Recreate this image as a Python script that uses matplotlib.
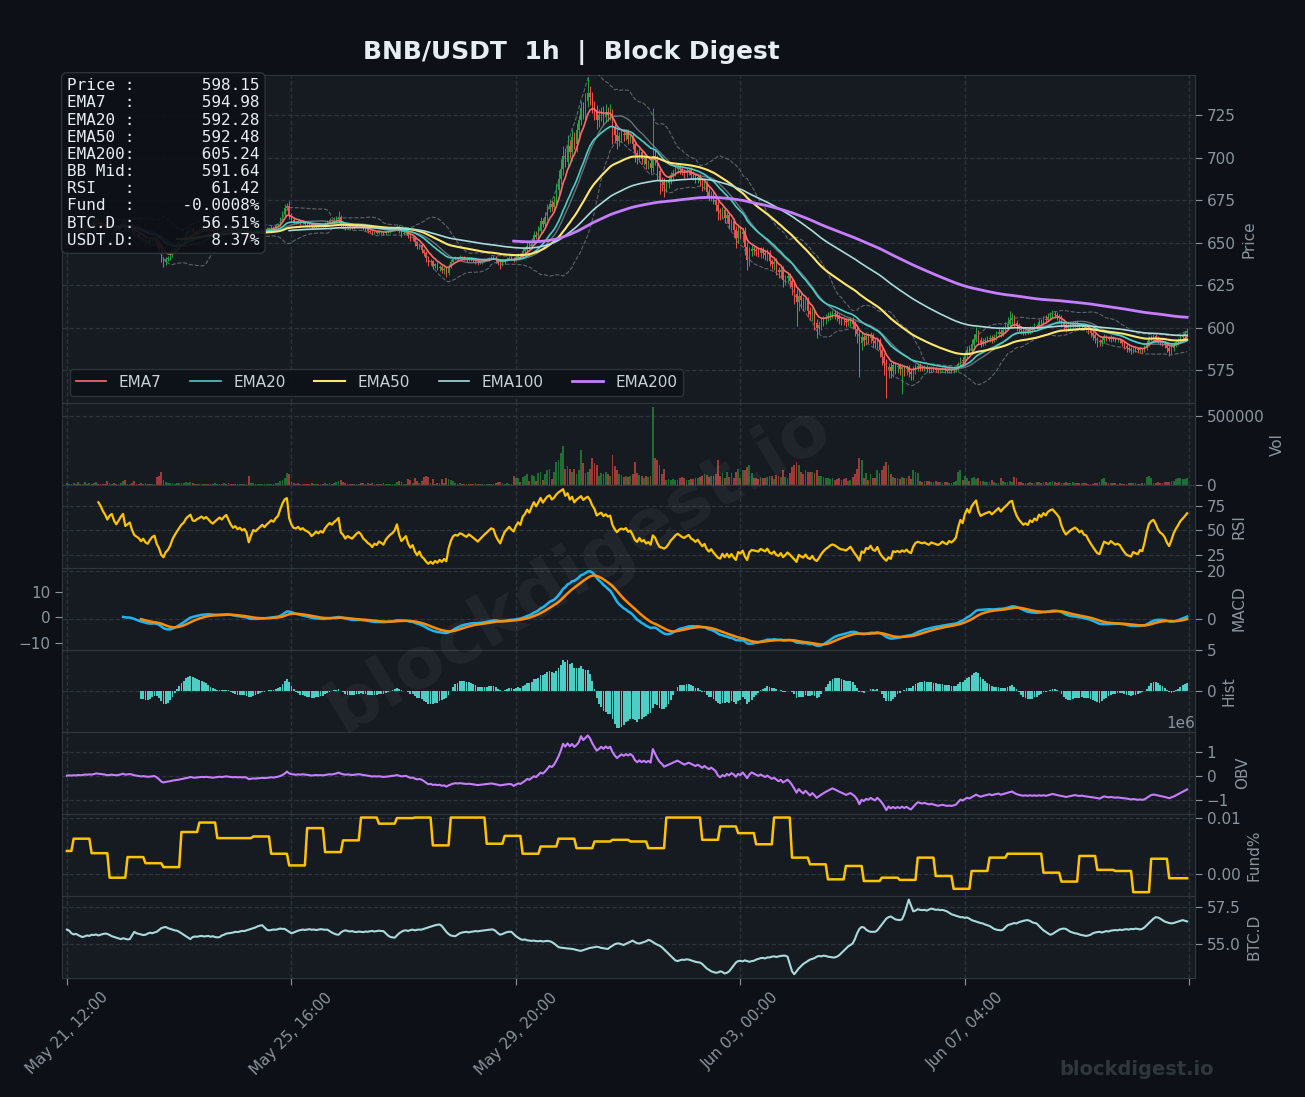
import numpy as np
import pandas as pd
import matplotlib
matplotlib.use("Agg")
import matplotlib.pyplot as plt

# ---------------- data ----------------
start_time = "2025-05-21 12:00"
first_open = 654.5
close = [
    655.0, 656.2, 655.4, 657.1, 656.5, 658.0, 657.3, 659.2, 660.1, 659.4,
    661.0, 660.3, 662.5, 663.8, 662.0, 661.2, 660.0, 659.1, 657.8, 659.5,
    660.4, 658.6, 657.5, 659.0, 660.8, 662.3, 658.4, 659.2, 660.0, 657.2,
    655.0, 654.2, 653.5, 652.0, 652.8, 651.0, 650.3, 651.5, 652.4, 652.8,
    649.0, 646.5, 641.0, 638.5, 640.2, 641.0, 642.5, 645.0, 646.8, 648.5,
    650.2, 652.0, 653.1, 655.5, 657.0, 658.2, 656.0, 655.8, 656.9, 657.5,
    658.3, 657.6, 658.5, 657.8, 657.0, 656.5, 657.4, 658.2, 659.0, 658.5,
    659.6, 660.4, 659.2, 658.0, 657.1, 657.6, 656.8, 657.2, 656.5, 656.9,
    656.0, 652.8, 654.5, 656.2, 655.8, 656.5, 657.1, 657.8, 657.2, 658.0,
    658.6, 659.3, 659.0, 660.1, 660.8, 663.5, 667.0, 670.5, 671.8, 666.0,
    663.5, 662.0, 661.8, 662.5, 661.4, 662.0, 661.2, 660.8, 660.2, 659.0,
    659.6, 660.4, 659.8, 660.5, 660.0, 661.3, 662.2, 663.0, 662.6, 663.4,
    664.0, 664.8, 661.0, 660.2, 658.8, 659.5, 659.0, 658.6, 659.2, 659.8,
    660.2, 659.6, 658.4, 657.8, 657.0, 656.5, 655.6, 656.2, 655.8, 656.4,
    656.0, 655.5, 656.3, 656.8, 657.2, 657.5, 658.0, 659.2, 657.0, 655.3,
    655.8, 656.3, 654.0, 652.5, 653.0, 650.2, 648.0, 648.8, 645.5, 644.0,
    641.0, 638.5, 639.0, 636.5, 637.2, 635.2, 635.9, 633.8, 634.5, 632.2,
    635.8, 638.5, 640.4, 641.0, 640.6, 641.5, 641.2, 640.5, 640.0, 640.8,
    640.2, 639.5, 638.8, 638.0, 638.6, 639.2, 639.8, 640.3, 640.9, 641.4,
    641.2, 639.5, 638.2, 637.0, 638.4, 639.8, 640.5, 641.2, 640.5, 640.0,
    641.5, 642.6, 642.0, 644.8, 646.0, 648.2, 647.5, 650.8, 654.6, 653.5,
    657.0, 662.5, 661.0, 665.2, 670.0, 672.5, 671.0, 674.0, 681.0, 687.5,
    693.0, 701.0, 697.5, 707.0, 703.0, 712.0, 708.0, 716.0, 722.0, 729.0,
    726.0, 733.0, 738.0, 735.5, 731.0, 728.0, 722.0, 725.0, 727.0, 724.0,
    727.0, 725.0, 726.5, 718.0, 713.5, 710.0, 712.8, 714.0, 713.0, 714.5,
    711.0, 712.0, 708.0, 702.5, 700.0, 703.0, 699.0, 700.0, 696.0, 697.0,
    694.0, 701.0, 698.5, 692.0, 686.5, 685.5, 684.0, 685.0, 687.0, 689.5,
    691.0, 693.0, 694.2, 693.0, 691.5, 690.8, 691.8, 692.5, 690.0, 689.0,
    687.5, 688.5, 686.0, 683.5, 684.5, 680.0, 677.5, 678.5, 675.0, 672.0,
    668.5, 667.0, 669.0, 664.5, 666.0, 661.0, 662.5, 657.5, 653.0, 657.0,
    655.0, 656.5, 647.5, 640.0, 645.0, 646.5, 645.6, 645.0, 644.0, 645.5,
    644.0, 642.5, 643.8, 639.0, 637.5, 638.6, 634.0, 632.5, 633.8, 628.0,
    629.0, 630.2, 627.5, 624.0, 620.0, 615.0, 618.5, 616.0, 614.0, 615.5,
    610.0, 608.0, 609.5, 603.0, 600.0, 601.5, 603.5, 605.0, 606.2, 607.0,
    608.0, 608.5, 607.8, 606.5, 605.0, 604.2, 604.0, 603.2, 603.8, 604.5,
    602.0, 599.0, 596.0, 591.0, 594.5, 593.0, 595.0, 594.2, 595.5, 592.0,
    591.0, 592.5, 587.0, 583.0, 579.0, 575.5, 577.0, 574.5, 578.0, 577.0,
    577.5, 576.0, 576.8, 575.5, 576.3, 574.0, 573.0, 575.5, 577.0, 577.5,
    577.0, 576.5, 576.8, 576.0, 575.5, 576.2, 575.8, 575.4, 575.0, 575.3,
    575.8, 575.2, 574.8, 575.5, 575.0, 575.4, 576.0, 578.5, 581.0, 580.2,
    584.0, 587.0, 586.0, 590.5, 593.5, 596.5, 593.0, 591.0, 592.0, 592.8,
    593.5, 594.0, 593.2, 594.5, 596.0, 597.5, 596.5, 598.5, 600.2, 602.0,
    604.5, 605.5, 603.0, 601.0, 599.5, 598.5, 597.5, 598.2, 597.6, 599.8,
    599.2, 601.0, 600.4, 603.5, 602.8, 605.0, 604.3, 606.5, 607.5, 608.2,
    607.5, 606.8, 606.0, 603.5, 601.5, 600.0, 600.8, 601.5, 602.0, 602.5,
    602.0, 601.0, 601.5, 600.2, 600.0, 598.5, 597.0, 595.5, 593.8, 592.0,
    591.5, 593.0, 594.5, 594.0, 593.5, 594.2, 593.5, 592.8, 593.0, 592.5,
    591.0, 589.5, 588.0, 587.5, 587.0, 587.8, 587.2, 586.8, 587.5, 587.0,
    588.5, 591.0, 593.5, 594.5, 595.0, 594.0, 592.5, 591.5, 591.0, 590.0,
    588.0, 586.5, 588.0, 590.0, 591.5, 592.8, 594.5, 595.5, 596.8, 598.15,
]
up_wick = [
    0.8, 0.5, 1.0, 0.6, 0.9, 0.7, 1.2, 0.5, 0.8, 1.0,
    0.6, 0.9, 0.7, 1.1, 0.5, 0.8, 0.6, 0.9, 1.0, 0.7,
    0.8, 0.6, 1.0, 0.7, 0.9, 1.2, 0.8, 0.6, 0.9, 0.7,
    0.8, 0.5, 0.9, 0.6, 1.0, 0.7, 0.5, 0.8, 0.6, 0.9,
    1.0, 1.4, 1.2, 0.8, 1.5, 0.9, 1.0, 1.2, 0.8, 1.0,
    0.9, 1.1, 0.8, 1.3, 1.0, 1.2, 0.7, 0.9, 0.6, 0.8,
    0.7, 0.5, 0.8, 0.6, 0.9, 0.5, 0.7, 0.6, 0.8, 0.5,
    0.9, 0.7, 0.6, 0.8, 0.5, 0.7, 0.6, 0.9, 0.5, 0.7,
    0.6, 1.2, 0.8, 0.7, 0.5, 0.6, 0.8, 0.7, 0.6, 0.9,
    0.7, 0.8, 0.6, 0.9, 1.0, 1.5, 1.8, 2.0, 1.5, 2.5,
    1.2, 0.9, 0.8, 1.0, 0.7, 0.9, 0.6, 0.8, 0.7, 0.9,
    0.6, 0.8, 0.7, 0.9, 0.6, 1.0, 0.8, 1.2, 0.9, 1.5,
    1.8, 3.5, 1.5, 1.0, 0.9, 0.8, 0.7, 0.9, 0.6, 0.8,
    0.7, 0.9, 0.6, 0.8, 0.7, 0.6, 0.9, 0.7, 0.8, 0.6,
    0.7, 0.8, 0.6, 0.9, 0.7, 0.8, 1.0, 1.2, 1.4, 1.0,
    0.8, 0.9, 1.0, 1.2, 0.9, 1.1, 1.0, 0.8, 1.2, 1.0,
    1.2, 1.0, 1.5, 0.9, 1.0, 1.2, 0.8, 1.0, 0.9, 1.1,
    1.5, 1.8, 1.2, 1.0, 0.8, 1.0, 0.7, 0.9, 0.6, 0.8,
    0.7, 0.9, 0.6, 0.8, 0.7, 0.6, 0.9, 0.7, 0.8, 0.6,
    0.9, 0.7, 0.8, 1.0, 0.9, 0.7, 0.8, 1.0, 0.9, 1.2,
    1.5, 1.2, 1.4, 1.8, 1.5, 2.0, 2.2, 1.8, 2.5, 2.0,
    2.5, 2.8, 2.2, 3.0, 2.5, 3.2, 2.8, 3.5, 4.0, 5.0,
    6.0, 5.5, 4.5, 6.5, 3.5, 5.0, 3.0, 4.5, 3.2, 4.0,
    3.5, 5.0, 9.5, 4.0, 3.0, 2.5, 3.0, 3.5, 2.8, 3.2,
    4.5, 2.5, 5.0, 2.0, 2.5, 3.0, 2.2, 2.8, 2.5, 2.0,
    2.2, 1.8, 2.5, 2.0, 1.8, 2.5, 2.0, 1.6, 2.2, 1.8,
    2.0, 28.0, 4.0, 3.0, 2.5, 2.0, 2.2, 1.8, 2.5, 2.0,
    2.2, 1.8, 2.5, 2.0, 1.6, 1.8, 2.2, 1.5, 2.0, 1.8,
    1.6, 2.0, 1.8, 1.5, 2.0, 1.8, 2.2, 1.6, 1.9, 2.0,
    2.5, 2.0, 1.8, 2.2, 1.8, 2.0, 1.6, 2.2, 2.5, 3.0,
    2.5, 2.0, 2.8, 3.0, 2.5, 2.2, 2.0, 2.5, 1.8, 2.2,
    2.0, 1.8, 2.2, 2.0, 1.6, 2.0, 2.2, 1.8, 2.0, 2.5,
    2.2, 2.8, 2.0, 2.5, 2.2, 3.0, 3.5, 2.5, 2.2, 2.0,
    2.5, 2.0, 2.2, 1.8, 2.0, 2.5, 2.2, 1.8, 2.0, 2.2,
    2.0, 1.8, 1.6, 2.0, 1.8, 1.5, 2.0, 1.6, 1.8, 2.0,
    1.8, 2.0, 2.2, 2.5, 2.8, 2.0, 2.2, 1.8, 2.0, 1.6,
    1.8, 2.0, 1.6, 2.2, 2.0, 2.5, 2.2, 2.8, 2.0, 1.8,
    1.6, 1.8, 2.0, 1.5, 1.8, 1.6, 2.0, 2.2, 1.8, 1.6,
    1.5, 1.2, 1.4, 1.0, 1.2, 1.0, 1.3, 0.9, 1.1, 1.0,
    1.2, 0.9, 1.0, 1.1, 0.8, 1.0, 1.2, 1.5, 1.8, 2.0,
    2.2, 2.5, 2.8, 3.0, 2.5, 4.0, 2.0, 1.8, 2.2, 1.6,
    1.8, 1.5, 1.6, 2.0, 1.8, 2.2, 1.5, 2.5, 3.0, 4.0,
    5.5, 3.0, 2.0, 1.8, 1.5, 1.6, 1.4, 1.2, 1.5, 1.3,
    1.2, 1.5, 1.3, 1.6, 1.8, 2.0, 2.5, 2.2, 1.8, 2.0,
    1.5, 1.6, 1.4, 1.2, 1.5, 1.3, 1.2, 1.4, 1.1, 1.3,
    1.2, 1.0, 1.3, 1.1, 1.2, 1.0, 1.3, 1.1, 1.2, 1.0,
    1.2, 1.4, 1.5, 1.2, 1.0, 1.3, 1.1, 1.0, 1.2, 0.9,
    1.0, 1.2, 0.9, 1.1, 1.0, 0.8, 1.0, 0.9, 1.1, 0.8,
    1.2, 1.5, 1.8, 1.4, 1.2, 1.0, 1.1, 0.9, 1.0, 1.2,
    1.0, 1.2, 1.1, 1.3, 1.0, 1.2, 1.4, 1.1, 1.3, 1.5,
]
dn_wick = [
    0.6, 0.9, 0.7, 0.5, 1.0, 0.6, 0.8, 0.7, 0.5, 0.9,
    0.8, 0.6, 0.9, 0.7, 1.0, 0.6, 0.8, 0.9, 1.2, 0.7,
    0.6, 0.9, 1.1, 0.7, 0.6, 0.8, 1.2, 0.7, 0.6, 1.0,
    1.0, 0.8, 1.1, 0.9, 0.7, 1.0, 0.8, 0.6, 0.7, 0.8,
    1.5, 2.0, 2.5, 2.8, 1.5, 1.2, 1.0, 0.9, 0.8, 1.0,
    0.8, 0.7, 0.9, 0.8, 1.0, 0.7, 1.2, 0.8, 0.7, 0.6,
    0.8, 0.7, 0.6, 0.9, 0.8, 0.7, 0.6, 0.8, 0.5, 0.7,
    0.6, 0.8, 0.9, 0.7, 0.8, 0.6, 0.9, 0.7, 0.8, 0.6,
    0.9, 2.0, 1.0, 0.7, 0.8, 0.6, 0.7, 0.5, 0.8, 0.6,
    0.7, 0.6, 0.8, 0.5, 0.7, 0.9, 1.0, 1.2, 1.5, 2.0,
    1.5, 1.0, 0.8, 0.9, 1.0, 0.7, 0.9, 0.8, 1.0, 0.9,
    0.7, 0.8, 0.9, 0.6, 0.8, 0.7, 0.6, 0.8, 0.9, 0.7,
    0.8, 1.2, 2.0, 1.5, 1.2, 0.9, 1.0, 0.8, 0.7, 0.9,
    0.8, 0.9, 1.0, 0.8, 1.1, 0.9, 1.2, 0.8, 1.0, 0.7,
    0.9, 1.0, 0.8, 0.7, 0.9, 0.6, 0.8, 0.9, 1.5, 1.8,
    1.0, 0.9, 1.5, 1.8, 1.5, 2.0, 1.6, 1.8, 1.5, 2.0,
    2.2, 2.5, 1.5, 1.8, 1.6, 1.2, 1.8, 1.5, 2.0, 2.5,
    1.2, 1.0, 1.1, 0.9, 1.0, 0.8, 1.0, 0.9, 1.2, 0.8,
    1.0, 0.9, 1.1, 1.2, 0.8, 0.9, 0.7, 0.8, 0.9, 0.7,
    0.8, 1.2, 1.5, 2.5, 1.0, 0.9, 0.8, 0.9, 1.0, 1.2,
    1.0, 1.2, 0.9, 1.1, 1.3, 1.5, 1.2, 1.4, 1.6, 1.5,
    1.8, 1.5, 2.0, 1.8, 2.2, 2.0, 2.5, 2.2, 2.0, 2.8,
    3.0, 3.5, 2.8, 4.0, 3.5, 5.0, 3.0, 4.5, 3.5, 3.0,
    3.5, 4.0, 3.0, 4.5, 5.0, 6.0, 5.5, 4.0, 3.5, 4.0,
    3.0, 3.5, 3.0, 10.0, 4.5, 5.0, 3.0, 3.5, 3.0, 2.8,
    3.0, 2.5, 3.0, 5.0, 4.0, 2.5, 3.0, 3.5, 3.0, 2.8,
    3.0, 2.5, 3.0, 5.0, 8.0, 5.0, 7.0, 4.0, 3.0, 2.5,
    2.5, 2.0, 2.2, 2.5, 2.0, 2.8, 2.2, 2.0, 2.5, 2.2,
    2.5, 2.2, 2.8, 3.0, 2.5, 3.2, 2.8, 3.0, 2.5, 3.5,
    5.0, 3.5, 3.0, 2.8, 3.2, 3.0, 3.5, 4.0, 6.0, 3.0,
    3.0, 4.5, 5.0, 6.0, 4.0, 3.0, 2.8, 3.0, 2.5, 2.8,
    3.0, 2.5, 3.2, 2.8, 3.0, 3.5, 3.0, 3.2, 3.5, 4.0,
    3.0, 2.5, 4.0, 5.0, 6.0, 14.0, 5.0, 4.5, 4.0, 3.5,
    4.0, 3.5, 4.0, 4.5, 6.0, 3.0, 2.8, 2.5, 3.0, 2.5,
    2.2, 2.5, 2.8, 2.5, 3.0, 2.5, 2.2, 2.8, 2.5, 3.0,
    3.0, 4.0, 5.0, 20.0, 4.0, 3.5, 3.0, 3.5, 3.0, 3.5,
    3.0, 3.5, 4.0, 5.0, 7.0, 17.0, 5.0, 4.0, 3.5, 4.0,
    3.5, 4.0, 15.0, 4.0, 3.5, 3.0, 4.0, 3.5, 3.0, 2.5,
    2.5, 2.0, 2.2, 1.8, 2.0, 1.6, 1.8, 1.5, 1.8, 1.6,
    1.5, 1.8, 1.6, 1.4, 1.5, 1.6, 1.4, 1.5, 1.2, 1.5,
    1.8, 2.0, 1.6, 2.2, 1.8, 2.0, 2.5, 2.2, 1.8, 2.0,
    1.5, 1.8, 2.0, 1.6, 1.5, 1.4, 1.8, 1.5, 1.6, 1.8,
    2.0, 2.2, 2.5, 2.8, 2.2, 2.0, 1.8, 1.6, 1.5, 1.4,
    1.5, 1.3, 1.2, 1.4, 1.2, 1.3, 1.5, 1.2, 1.4, 1.6,
    1.8, 2.0, 2.5, 3.0, 2.8, 2.5, 2.2, 1.8, 1.6, 1.5,
    1.4, 1.6, 1.5, 1.8, 1.6, 2.0, 2.2, 2.5, 3.0, 3.5,
    2.5, 2.0, 1.8, 1.6, 1.5, 1.8, 1.6, 1.5, 1.4, 1.6,
    1.8, 2.0, 2.2, 2.0, 2.5, 1.8, 1.6, 1.8, 1.5, 1.6,
    1.5, 1.4, 1.6, 1.5, 1.3, 1.5, 1.6, 1.8, 2.0, 2.2,
    2.5, 3.0, 2.0, 1.6, 1.5, 1.4, 1.2, 1.3, 1.1, 1.2,
]
volume_k = [
    18, 12, 9, 15, 11, 22, 14, 10, 25, 13,
    16, 9, 20, 28, 12, 10, 14, 11, 30, 15,
    12, 17, 9, 14, 21, 30, 40, 11, 13, 16,
    35, 14, 12, 18, 10, 15, 13, 9, 11, 12,
    60, 70, 96, 40, 22, 15, 18, 20, 14, 16,
    15, 19, 17, 24, 20, 26, 18, 12, 10, 11,
    13, 9, 12, 10, 14, 11, 16, 12, 10, 14,
    18, 12, 15, 11, 10, 9, 13, 8, 11, 10,
    14, 70, 20, 15, 10, 12, 9, 11, 13, 10,
    12, 14, 11, 16, 18, 30, 42, 55, 89, 80,
    25, 18, 12, 15, 10, 13, 9, 11, 14, 16,
    12, 10, 13, 9, 11, 15, 14, 18, 12, 20,
    24, 35, 40, 28, 18, 12, 10, 14, 9, 11,
    12, 15, 18, 13, 16, 14, 20, 12, 11, 10,
    13, 15, 9, 11, 12, 10, 14, 22, 30, 25,
    12, 10, 45, 40, 18, 50, 30, 20, 30, 60,
    70, 60, 15, 45, 14, 20, 16, 45, 18, 50,
    48, 40, 32, 20, 14, 15, 12, 10, 13, 11,
    12, 14, 16, 13, 10, 11, 12, 9, 14, 10,
    13, 18, 22, 25, 15, 14, 16, 12, 13, 66,
    55, 50, 25, 60, 65, 80, 30, 75, 70, 35,
    90, 95, 40, 85, 110, 120, 45, 100, 165, 185,
    235, 282, 120, 136, 120, 95, 120, 80, 110, 253,
    160, 90, 100, 120, 200, 160, 150, 70, 90, 85,
    100, 80, 70, 220, 140, 113, 80, 75, 60, 70,
    60, 65, 80, 171, 90, 75, 70, 55, 65, 60,
    70, 560, 200, 180, 150, 80, 120, 40, 45, 40,
    45, 40, 40, 55, 60, 50, 40, 40, 45, 45,
    50, 55, 60, 70, 80, 75, 60, 65, 70, 80,
    180, 70, 90, 50, 100, 60, 90, 50, 100, 120,
    50, 110, 110, 130, 150, 90, 50, 50, 45, 60,
    50, 55, 60, 70, 65, 45, 75, 70, 60, 110,
    60, 55, 90, 130, 150, 170, 150, 100, 80, 110,
    95, 100, 100, 90, 110, 70, 65, 60, 55, 50,
    45, 50, 40, 45, 50, 40, 45, 50, 35, 40,
    60, 80, 120, 200, 180, 50, 90, 40, 80, 50,
    55, 110, 90, 110, 140, 170, 150, 80, 60, 55,
    50, 45, 60, 55, 50, 65, 45, 110, 100, 90,
    30, 25, 30, 35, 30, 25, 28, 30, 25, 22,
    20, 25, 22, 18, 20, 25, 30, 100, 110, 40,
    65, 50, 30, 55, 60, 45, 50, 35, 30, 25,
    22, 25, 40, 28, 20, 20, 50, 30, 25, 25,
    30, 25, 60, 50, 25, 22, 20, 18, 20, 22,
    20, 18, 22, 25, 20, 22, 25, 20, 28, 30,
    22, 20, 25, 15, 18, 28, 20, 18, 22, 20,
    18, 20, 16, 18, 15, 12, 12, 14, 15, 15,
    25, 45, 50, 22, 20, 18, 16, 15, 14, 16,
    10, 10, 12, 20, 18, 16, 15, 14, 12, 15,
    20, 60, 65, 55, 18, 16, 22, 20, 18, 22,
    28, 25, 35, 35, 48, 50, 52, 48, 45, 50,
]
funding_8h = [
    0.0041, 0.0063, 0.0037, -0.0007, 0.0030, 0.0019, 0.0012, 0.0075, 0.0092, 0.0064,
    0.0064, 0.0067, 0.0036, 0.0015, 0.0082, 0.0039, 0.0060, 0.0101, 0.0090, 0.0100,
    0.0101, 0.0051, 0.0101, 0.0101, 0.0054, 0.0068, 0.0036, 0.0049, 0.0063, 0.0046,
    0.0058, 0.0061, 0.0058, 0.0046, 0.0101, 0.0101, 0.0061, 0.0085, 0.0073, 0.0053,
    0.0101, 0.0029, 0.0017, -0.0010, 0.0014, -0.0013, -0.0007, -0.0011, 0.0029, -0.0004,
    -0.0027, 0.0005, 0.0029, 0.0036, 0.0036, 0.0002, -0.0014, 0.0032, 0.0007, 0.0005,
    -0.0033, 0.0027, -0.0008,
]
funding_hours = [3] + [8] * 61 + [9]
btc_dom = [
    55.95, 55.88, 55.70, 55.62, 55.66, 55.58, 55.50, 55.44, 55.50, 55.55,
    55.52, 55.60, 55.58, 55.62, 55.55, 55.60, 55.65, 55.68, 55.66, 55.58,
    55.50, 55.45, 55.40, 55.35, 55.30, 55.36, 55.32, 55.28, 55.30, 55.55,
    55.80, 55.70, 55.66, 55.62, 55.58, 55.60, 55.68, 55.74, 55.70, 55.76,
    55.80, 55.92, 56.05, 56.10, 56.13, 56.05, 56.00, 55.95, 55.90, 55.88,
    55.80, 55.70, 55.60, 55.50, 55.40, 55.30, 55.44, 55.48, 55.46, 55.50,
    55.52, 55.48, 55.50, 55.52, 55.46, 55.50, 55.44, 55.42, 55.44, 55.55,
    55.60, 55.68, 55.70, 55.72, 55.75, 55.80, 55.78, 55.82, 55.86, 55.85,
    55.90, 55.95, 56.00, 56.05, 56.10, 56.18, 56.22, 56.25, 56.10, 55.95,
    55.90, 55.92, 55.96, 55.94, 55.98, 56.02, 56.00, 56.00, 55.90, 55.80,
    55.70, 55.75, 55.82, 55.88, 55.92, 55.95, 55.93, 55.95, 55.98, 55.94,
    55.96, 55.92, 55.95, 55.98, 55.96, 55.94, 55.95, 55.85, 55.75, 55.68,
    55.62, 55.60, 55.75, 55.85, 55.90, 55.86, 55.82, 55.85, 55.80, 55.78,
    55.82, 55.80, 55.78, 55.82, 55.80, 55.84, 55.86, 55.82, 55.85, 55.88,
    55.85, 55.85, 55.70, 55.55, 55.45, 55.42, 55.40, 55.55, 55.70, 55.80,
    55.88, 55.90, 55.86, 55.92, 55.95, 55.90, 55.94, 55.95, 55.95, 56.00,
    56.05, 56.10, 56.15, 56.20, 56.25, 56.28, 56.30, 56.20, 56.00, 55.80,
    55.65, 55.55, 55.52, 55.50, 55.60, 55.70, 55.75, 55.78, 55.80, 55.76,
    55.80, 55.82, 55.85, 55.83, 55.86, 55.88, 55.90, 55.92, 55.94, 55.96,
    55.95, 55.85, 55.70, 55.60, 55.65, 55.72, 55.78, 55.80, 55.80, 55.65,
    55.50, 55.40, 55.30, 55.25, 55.28, 55.22, 55.20, 55.18, 55.20, 55.16,
    55.16, 55.18, 55.14, 55.16, 55.18, 55.16, 55.10, 55.00, 54.88, 54.75,
    54.72, 54.70, 54.68, 54.66, 54.65, 54.63, 54.60, 54.56, 54.52, 54.50,
    54.55, 54.60, 54.65, 54.70, 54.72, 54.75, 54.78, 54.75, 54.70, 54.68,
    54.65, 54.63, 54.75, 54.85, 54.95, 55.00, 55.00, 54.95, 54.90, 54.98,
    55.05, 55.12, 55.20, 55.10, 55.02, 55.00, 55.05, 55.10, 55.15, 55.25,
    55.20, 55.10, 55.00, 54.92, 54.85, 54.75, 54.60, 54.45, 54.30, 54.15,
    54.00, 53.85, 53.80, 53.85, 53.90, 53.88, 53.92, 53.90, 53.85, 53.80,
    53.75, 53.72, 53.70, 53.60, 53.45, 53.30, 53.20, 53.10, 53.05, 53.00,
    53.02, 53.10, 53.05, 52.95, 53.00, 53.10, 53.30, 53.50, 53.70, 53.80,
    53.82, 53.78, 53.85, 53.80, 53.75, 53.80, 53.82, 53.90, 53.95, 54.00,
    54.02, 53.98, 54.05, 54.05, 54.10, 54.12, 54.08, 54.12, 54.15, 54.17,
    54.17, 54.10, 53.60, 53.10, 52.90, 53.10, 53.30, 53.45, 53.60, 53.70,
    53.80, 53.90, 53.95, 54.00, 54.10, 54.15, 54.12, 54.17, 54.15, 54.10,
    54.08, 54.05, 54.05, 54.10, 54.20, 54.35, 54.50, 54.65, 54.80, 54.90,
    55.00, 55.30, 55.70, 56.00, 56.13, 56.10, 55.95, 55.85, 55.80, 55.80,
    55.80, 55.90, 56.10, 56.30, 56.50, 56.70, 56.80, 56.85, 56.75, 56.65,
    56.62, 56.60, 56.65, 57.00, 57.50, 58.00, 57.60, 57.20, 57.25, 57.35,
    57.30, 57.28, 57.30, 57.25, 57.32, 57.38, 57.35, 57.30, 57.32, 57.28,
    57.30, 57.25, 57.20, 57.10, 57.00, 56.95, 56.90, 56.85, 56.80, 56.80,
    56.75, 56.78, 56.70, 56.60, 56.55, 56.50, 56.45, 56.40, 56.37, 56.30,
    56.25, 56.20, 56.10, 56.00, 55.95, 55.92, 55.90, 55.95, 56.10, 56.25,
    56.30, 56.35, 56.40, 56.37, 56.45, 56.50, 56.55, 56.58, 56.60, 56.55,
    56.45, 56.40, 56.37, 56.20, 56.05, 55.90, 55.80, 55.70, 55.60, 55.65,
    55.75, 55.85, 55.95, 56.00, 56.02, 56.00, 55.90, 55.80, 55.75, 55.70,
    55.68, 55.62, 55.58, 55.55, 55.52, 55.55, 55.60, 55.70, 55.75, 55.78,
    55.80, 55.75, 55.80, 55.85, 55.82, 55.88, 55.90, 55.92, 55.90, 55.95,
    55.92, 55.96, 55.98, 55.95, 56.00, 55.98, 56.02, 56.00, 55.96, 56.00,
    56.10, 56.25, 56.40, 56.55, 56.70, 56.80, 56.78, 56.70, 56.60, 56.50,
    56.45, 56.40, 56.38, 56.40, 56.45, 56.50, 56.55, 56.60, 56.55, 56.51,
]
info_labels = ["Price", "EMA7", "EMA20", "EMA50", "EMA200", "BB Mid",
               "RSI", "Fund", "BTC.D", "USDT.D"]
info_values = ["598.15", "594.98", "592.28", "592.48", "605.24", "591.64",
               "61.42", "-0.0008%", "56.51%", "8.37%"]
ema_periods = [7, 20, 50, 100, 200]
ema_colors = ["#ff6b6b", "#4ecdc4", "#ffe66d", "#a8dadc", "#c77dff"]
ema_widths = [1.2, 1.2, 1.5, 1.2, 2.0]

# ---------------- style ----------------
FIG_BG = "#0d1117"
AX_BG = "#161b22"
GRID = "#30363d"
TXT = "#8b949e"
GREEN = "#26a641"
RED = "#f85149"

n = len(close)
x = np.arange(n)
c = pd.Series(close, dtype=float)
o = pd.Series(np.r_[first_open, close[:-1]], dtype=float)
is_up = (c >= o).values
hi = np.maximum(o, c).values + np.array(up_wick)
lo = np.minimum(o, c).values - np.array(dn_wick)
vol = np.array(volume_k, dtype=float) * 1000
cols = np.where(is_up, GREEN, RED)

emas = []
for p in ema_periods:
    e = c.ewm(span=p, adjust=False).mean()
    e[:p - 1] = np.nan
    emas.append(e)
bb_mid = c.rolling(20).mean()
bb_std = c.rolling(20).std()
bb_up = bb_mid + 2 * bb_std
bb_lo = bb_mid - 2 * bb_std

d = c.diff()
gain = d.clip(lower=0).ewm(alpha=1 / 14, adjust=False, min_periods=14).mean()
loss = (-d.clip(upper=0)).ewm(alpha=1 / 14, adjust=False, min_periods=14).mean()
rsi = 100 - 100 / (1 + gain / loss)

ema12 = c.ewm(span=12, adjust=False, min_periods=12).mean()
ema26 = c.ewm(span=26, adjust=False, min_periods=26).mean()
macd = ema12 - ema26
signal = macd.ewm(span=9, adjust=False, min_periods=9).mean()
hist = macd - signal

obv = np.r_[0, np.cumsum(np.sign(np.diff(close)) * vol[1:])]
fund = np.repeat(funding_8h, funding_hours)

times = pd.date_range(start_time, periods=n, freq="h")

# ---------------- figure ----------------
plt.rcParams["font.family"] = "DejaVu Sans"
fig = plt.figure(figsize=(13.05, 10.97), dpi=100, facecolor=FIG_BG)
gs = fig.add_gridspec(8, 1, height_ratios=[4, 1, 1, 1, 1, 1, 1, 1], hspace=0,
                      left=0.0475, right=0.9157, top=0.9316, bottom=0.1085)
axes = []
for i in range(8):
    ax = fig.add_subplot(gs[i], sharex=axes[0] if axes else None)
    ax.set_facecolor(AX_BG)
    for sp in ax.spines.values():
        sp.set_color(GRID)
    ax.grid(True, color=GRID, ls="--", lw=0.9, alpha=0.9)
    ax.set_axisbelow(True)
    axes.append(ax)
ax_p, ax_v, ax_r, ax_m, ax_h, ax_o, ax_f, ax_b = axes

# macd left-hand companion axis (created first so right ticks can be restored)
ax_ml = ax_m.twinx()
for ax in axes:
    ax.yaxis.tick_right()
    ax.yaxis.set_label_position("right")
    ax.tick_params(colors=TXT, labelsize=11, length=5)
ax_ml.yaxis.tick_left()
ax_ml.yaxis.set_label_position("left")
ax_ml.tick_params(colors=TXT, labelsize=11, length=5)
ax_ml.set_ylim(-12.7, 19.4)
ax_ml.set_yticks([-10, 0, 10])
ax_ml.grid(False)
for sp in ax_ml.spines.values():
    sp.set_visible(False)

# price
ax_p.vlines(x, lo, hi, colors=cols, lw=0.7, zorder=2)
ax_p.bar(x, np.maximum(np.abs(c - o).values, 0.2), bottom=np.minimum(o, c).values,
         width=0.6, color=cols, zorder=2)
ax_p.plot(x, bb_up, color="#6e7681", ls="--", lw=0.8, alpha=0.8, zorder=3)
ax_p.plot(x, bb_lo, color="#6e7681", ls="--", lw=0.8, alpha=0.8, zorder=3)
ax_p.plot(x, bb_mid, color="#8b949e", lw=1.0, alpha=0.7, zorder=3)
for e, p, col, lw in zip(emas, ema_periods, ema_colors, ema_widths):
    ax_p.plot(x, e, color=col, lw=lw, label=f"EMA{p}", zorder=4)
ax_p.set_ylim(555.5, 748.5)
ax_p.set_yticks([575, 600, 625, 650, 675, 700, 725])
ax_p.set_ylabel("Price", color=TXT, fontsize=11)
leg = ax_p.legend(loc="lower left", ncol=5, fontsize=11, facecolor=FIG_BG,
                  edgecolor=GRID, framealpha=0.9, borderaxespad=0.5,
                  columnspacing=1.9, handlelength=2.0)
for t in leg.get_texts():
    t.set_color("#c9d1d9")
info = "\n".join(f"{l:<6}:{v:>13}" for l, v in zip(info_labels, info_values))
ax_p.text(0.0045, 0.99, info, transform=ax_p.transAxes, va="top", ha="left",
          family="DejaVu Sans Mono", fontsize=11.5, color="#e6edf3", linespacing=1.18,
          zorder=10,
          bbox=dict(boxstyle="round,pad=0.35", fc=FIG_BG, ec=GRID, alpha=0.92))

# volume
ax_v.bar(x, vol, width=0.8, color=cols, alpha=0.6)
ax_v.set_yticks([0, 500000])
ax_v.set_ylabel("Vol", color=TXT, fontsize=11)

# rsi
ax_r.plot(x, rsi, color="#ffc300", lw=1.6)
ax_r.set_yticks([25, 50, 75])
ax_r.set_ylabel("RSI", color=TXT, fontsize=11)

# macd
ax_m.plot(x, macd, color="#1cb5f0", lw=1.8)
ax_m.plot(x, signal, color="#ff8c00", lw=1.8)
ax_m.set_yticks([0, 20])
ax_m.set_ylabel("MACD", color=TXT, fontsize=11)

# hist
ax_h.bar(x, hist, width=0.8, color="#4ecdc4")
ax_h.set_yticks([0, 5])
ax_h.set_ylabel("Hist", color=TXT, fontsize=11)

# obv
ax_o.plot(x, obv, color="#c77dff", lw=1.5)
ax_o.set_yticks([-1e6, 0, 1e6])
ax_o.yaxis.get_offset_text().set_color(TXT)
ax_o.yaxis.get_offset_text().set_fontsize(11)
ax_o.set_ylabel("OBV", color=TXT, fontsize=11)

# funding
ax_f.plot(x, fund, color="#ffc300", lw=1.8)
ax_f.set_yticks([0.0, 0.01])
ax_f.set_ylabel("Fund%", color=TXT, fontsize=11)

# btc dominance
ax_b.plot(x, btc_dom, color="#a8dadc", lw=1.5)
ax_b.set_yticks([55.0, 57.5])
ax_b.set_ylabel("BTC.D", color=TXT, fontsize=11)

# x axis
ticks = [0, 100, 200, 300, 400, 500]
labels = [times[t].strftime("%b %d, %H:%M") if t < n else "" for t in ticks]
ax_b.set_xlim(-2.2, 502.5)
ax_b.set_xticks(ticks)
ax_b.set_xticklabels(labels, rotation=45)
for ax in axes[:-1]:
    ax.tick_params(labelbottom=False)

fig.text(0.438, 0.952, "BNB/USDT  1h  |  Block Digest", ha="center", va="center",
         fontsize=18, fontweight="bold", color="#e6edf3")
fig.text(0.444, 0.482, "blockdigest.io", ha="center", va="center", rotation=31,
         fontsize=52, fontweight="bold", color="white", alpha=0.05)
fig.text(0.93, 0.025, "blockdigest.io", ha="right", va="center",
         fontsize=14, fontweight="bold", color="#30363d")

fig.savefig("out.png", dpi=100, facecolor=FIG_BG)
